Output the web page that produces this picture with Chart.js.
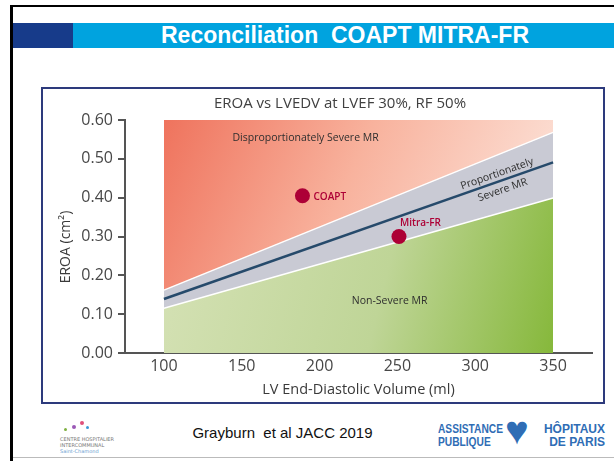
<!DOCTYPE html>
<html><head><meta charset="utf-8">
<script src="https://cdn.jsdelivr.net/npm/chart.js@4.4.1/dist/chart.umd.min.js"></script>
<style>
html,body{margin:0;padding:0;background:#fff;}
body{width:614px;height:461px;position:relative;overflow:hidden;font-family:"Liberation Sans",Arial,sans-serif;}
.abs{position:absolute;}
</style></head><body>
<div class="abs" style="left:10px;top:5px;width:604px;height:2px;background:#000"></div>
<div class="abs" style="left:10px;top:5px;width:3px;height:456px;background:#000"></div>
<div class="abs" style="left:13px;top:23px;width:60px;height:25px;background:#173b8a"></div>
<div class="abs" style="left:73px;top:23px;width:541px;height:25px;background:#00a3df"></div>
<div class="abs" style="left:73px;top:22px;width:544px;height:25px;line-height:27px;text-align:center;color:#fff;font-weight:bold;font-size:23px;white-space:pre;">Reconciliation  COAPT MITRA-FR</div>
<div class="abs" style="left:41px;top:87px;width:564px;height:317px;box-sizing:border-box;border:2px solid #2d3a7c;"></div>
<canvas id="c" class="abs" width="558" height="311" style="left:44px;top:90px;width:558px;height:311px;"></canvas>
<div class="abs" style="left:150px;top:424px;width:265px;text-align:center;font-size:15px;color:#111;white-space:pre;">Grayburn  et al JACC 2019</div>
<!-- left logo -->
<div class="abs" style="left:80px;top:421px;width:4px;height:4px;border-radius:2px;background:#e0507a"></div>
<div class="abs" style="left:72px;top:425px;width:4px;height:4px;border-radius:2px;background:#9b59b6"></div>
<div class="abs" style="left:64px;top:428px;width:3px;height:3px;border-radius:2px;background:#7fb040"></div>
<div class="abs" style="left:86px;top:426px;width:3px;height:3px;border-radius:2px;background:#3a9ad9"></div>
<div class="abs" style="left:60px;top:436px;width:76px;font-size:5px;line-height:6px;color:#777;font-family:'DejaVu Sans';">CENTRE HOSPITALIER<br>INTERCOMMUNAL<br><span style="color:#6aa0d0">Saint-Chamond</span></div>
<!-- right logo -->
<div class="abs" style="left:438px;top:423px;font-size:12px;line-height:13px;font-weight:bold;color:#2f6db5;transform:scaleX(0.85);transform-origin:left top;white-space:nowrap;">ASSISTANCE<br>PUBLIQUE</div>
<div class="abs" style="left:505px;top:410px;font-size:40px;line-height:40px;color:#2f6db5;">&#9829;</div>
<div class="abs" style="left:536px;top:423px;font-size:12px;line-height:13px;font-weight:bold;color:#2f6db5;text-align:right;width:69px;white-space:nowrap;">HÔPITAUX<br>DE PARIS</div>
<div class="abs" style="left:13px;top:457px;width:601px;height:1px;background:#bbb"></div>
<script>
// ---- data ----
const lvedv = [100, 350];
const upperEroa = [0.162, 0.568];
const centerEroa = [0.139, 0.491];
const lowerEroa = [0.115, 0.399];
const trialNames = ['COAPT', 'Mitra-FR'];
const trialLvedv = [189, 251];
const trialEroa = [0.405, 0.30];
const xTicks = [100, 150, 200, 250, 300, 350];
const yTicks = [0, 0.1, 0.2, 0.3, 0.4, 0.5, 0.6];
const xRange = [75, 375];
const yRange = [0, 0.6];
const chartTitle = 'EROA vs LVEDV at LVEF 30%, RF 50%';
const regionNames = ['Disproportionately Severe MR', 'Non-Severe MR'];
const bandName = ['Proportionately', 'Severe MR'];

const pts = (xs, ys) => xs.map((x, i) => ({x: x, y: ys[i]}));
const FONT = '"Open Sans", "DejaVu Sans", sans-serif';

function redFill(ctx) {
  const c = ctx.chart, s = c.scales;
  if (!c.chartArea || !s.x) return '#f5a08a';
  const g = c.ctx.createLinearGradient(s.x.getPixelForValue(lvedv[0]), s.y.getPixelForValue(yRange[1]),
                                       s.x.getPixelForValue(lvedv[1]), s.y.getPixelForValue(0.15));
  g.addColorStop(0, '#ef735d');
  g.addColorStop(0.45, '#f8b29d');
  g.addColorStop(1, '#fdebe3');
  return g;
}
function greenFill(ctx) {
  const c = ctx.chart, s = c.scales;
  if (!c.chartArea || !s.x) return '#c4d89c';
  const g = c.ctx.createLinearGradient(s.x.getPixelForValue(lvedv[0]), s.y.getPixelForValue(0.25),
                                       s.x.getPixelForValue(lvedv[1]), s.y.getPixelForValue(0));
  g.addColorStop(0, '#d4e1b4');
  g.addColorStop(0.55, '#bfd597');
  g.addColorStop(1, '#86b83b');
  return g;
}

const annot = {
  id: 'annot',
  afterDatasetsDraw(chart) {
    const {ctx, scales: {x, y}} = chart;
    ctx.save();
    // chart title
    ctx.fillStyle = '#404040';
    ctx.font = '15px ' + FONT;
    ctx.textAlign = 'center';
    ctx.textBaseline = 'middle';
    ctx.fillText(chartTitle, 296, 14);
    // region labels
    ctx.font = '10.5px ' + FONT;
    ctx.fillStyle = '#2e2e2e';
    ctx.fillText(regionNames[0], x.getPixelForValue(191), y.getPixelForValue(0.553));
    ctx.fillText(regionNames[1], x.getPixelForValue(245), y.getPixelForValue(0.134));
    // band label, rotated along center line
    const ang = Math.atan2(y.getPixelForValue(centerEroa[1]) - y.getPixelForValue(centerEroa[0]),
                           x.getPixelForValue(lvedv[1]) - x.getPixelForValue(lvedv[0]));
    ctx.save();
    ctx.translate(x.getPixelForValue(314), y.getPixelForValue(0.461));
    ctx.rotate(ang);
    ctx.font = '10.5px ' + FONT;
    ctx.fillText(bandName[0], 0, 0);
    ctx.fillText(bandName[1], 0, 17);
    ctx.restore();
    // trial labels
    ctx.font = '600 10px ' + FONT;
    ctx.fillStyle = '#ad0036';
    ctx.textAlign = 'left';
    const p0x = x.getPixelForValue(trialLvedv[0]), p0y = y.getPixelForValue(trialEroa[0]);
    ctx.fillText(trialNames[0], p0x + 11, p0y + 1);
    const p1x = x.getPixelForValue(trialLvedv[1]), p1y = y.getPixelForValue(trialEroa[1]);
    ctx.fillText(trialNames[1], p1x + 1, p1y - 13);
    ctx.restore();
  }
};

new Chart(document.getElementById('c'), {
  type: 'line',
  data: {
    datasets: [
      {label: 'upper', data: pts(lvedv, upperEroa), borderColor: '#ffffff', borderWidth: 1.5,
       pointRadius: 0, fill: 'end', backgroundColor: redFill, order: 3},
      {label: 'lower', data: pts(lvedv, lowerEroa), borderColor: '#ffffff', borderWidth: 1.5,
       pointRadius: 0, fill: {target: 0}, backgroundColor: '#c9cad4', order: 3},
      {label: 'lowerFill', data: pts(lvedv, lowerEroa), borderWidth: 0, borderColor: 'rgba(0,0,0,0)',
       pointRadius: 0, fill: 'start', backgroundColor: greenFill, order: 4},
      {label: 'center', data: pts(lvedv, centerEroa), borderColor: '#264a6b', borderWidth: 2.5,
       pointRadius: 0, fill: false, order: 2},
      {label: 'trials', data: pts(trialLvedv, trialEroa), showLine: false, pointRadius: 7.5,
       pointHoverRadius: 7.5, pointBackgroundColor: '#ad0036', pointBorderColor: '#ad0036',
       pointBorderWidth: 0, fill: false, order: 1}
    ]
  },
  options: {
    responsive: false,
    animation: false,
    devicePixelRatio: 1,
    layout: {padding: {top: 30, right: 10, left: 0, bottom: 0}},
    plugins: {
      legend: {display: false},
      tooltip: {enabled: false},
      filler: {drawTime: 'beforeDatasetsDraw'}
    },
    scales: {
      x: {
        type: 'linear', min: xRange[0], max: xRange[1],
        afterBuildTicks: s => { s.ticks = xTicks.map(v => ({value: v})); },
        afterFit: s => { s.height = 48; },
        grid: {display: false, drawTicks: false},
        border: {display: true, color: '#555', width: 2},
        ticks: {color: '#474747', font: {family: FONT, size: 16}, padding: 4},
        title: {display: true, text: 'LV End-Diastolic Volume (ml)', color: '#3a3a3a',
                font: {family: FONT, size: 14.5}, padding: {top: 0, bottom: 2}}
      },
      y: {
        type: 'linear', min: yRange[0], max: yRange[1],
        afterBuildTicks: s => { s.ticks = yTicks.map(v => ({value: v})); },
        afterFit: s => { s.width = 81; },
        grid: {display: true, drawOnChartArea: false, drawTicks: true, tickLength: 7, color: '#555', lineWidth: 2},
        border: {display: true, color: '#555', width: 2},
        ticks: {color: '#474747', font: {family: FONT, size: 16}, padding: 5,
                callback: v => v.toFixed(2)},
        title: {display: true, text: 'EROA (cm²)\u2003\u2002', color: '#3a3a3a',
                font: {family: FONT, size: 14}, padding: {top: 14, bottom: 0}}
      }
    }
  },
  plugins: [annot]
});
</script>
</body></html>
